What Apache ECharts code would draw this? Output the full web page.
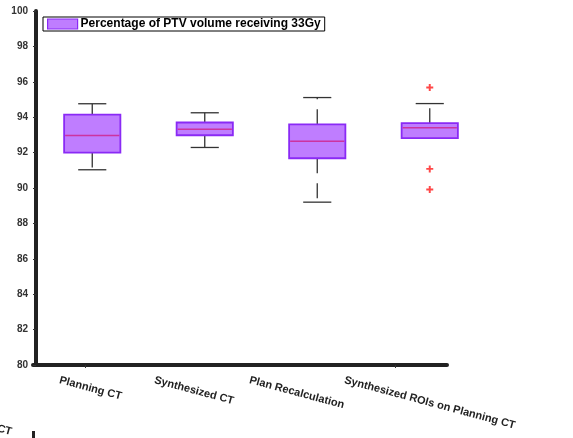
<!DOCTYPE html>
<html>
<head>
<meta charset="utf-8">
<script src="https://cdn.jsdelivr.net/npm/echarts@6/dist/echarts.min.js"></script>
<style>
  html, body { margin: 0; padding: 0; background: #fff; }
  #chart { width: 573px; height: 438px; }
</style>
</head>
<body>
<div id="chart"></div>
<script>
// Box-plot statistics per image set (percent of PTV volume receiving 33 Gy)
const categories = ['Planning CT', 'Synthesized CT', 'Plan Recalculation', 'Synthesized ROIs on Planning CT'];
const lowerWhisker = [91.03, 92.29, 89.20, 92.82];
const q1           = [92.00, 92.98, 91.68, 92.82];
const median       = [92.97, 93.32, 92.64, 93.40];
const q3           = [94.15, 93.70, 93.60, 93.66];
const upperWhisker = [94.76, 94.25, 95.11, 94.77];
// Outliers: [category index, value]
const outliers = [[3, 95.68], [3, 91.08], [3, 89.92]];
// Value axis range and tick step
const yMin = 80, yMax = 100, yStep = 2;
const seriesName = 'Percentage of PTV volume receiving 33Gy';

const FONT = 'Liberation Sans, Arial, Helvetica, sans-serif';
const BOX_FILL = '#bf7dff';
const BOX_EDGE = '#8a2af5';
const MEDIAN_COLOR = '#cc33a0';
const WHISKER_COLOR = '#333333';

const boxData = categories.map((c, i) => [i, lowerWhisker[i], q1[i], median[i], q3[i], upperWhisker[i]]);

function renderBox(params, api) {
  const i = api.value(0);
  const band = api.size([1, 0])[0];
  const xc = api.coord([i, api.value(3)])[0];
  const yLo = api.coord([i, api.value(1)])[1];
  const yQ1 = api.coord([i, api.value(2)])[1];
  const yMed = api.coord([i, api.value(3)])[1];
  const yQ3 = api.coord([i, api.value(4)])[1];
  const yHi = api.coord([i, api.value(5)])[1];
  const boxW = band * 0.5;
  const capW = band * 0.25;
  const whisker = { stroke: WHISKER_COLOR, lineWidth: 1.3, lineDash: [15, 10] };
  const cap = { stroke: WHISKER_COLOR, lineWidth: 1.3 };
  return {
    type: 'group',
    children: [
      { type: 'line', shape: { x1: xc, y1: yQ3, x2: xc, y2: yHi }, style: whisker },
      { type: 'line', shape: { x1: xc, y1: yQ1, x2: xc, y2: yLo }, style: whisker },
      { type: 'line', shape: { x1: xc - capW / 2, y1: yHi, x2: xc + capW / 2, y2: yHi }, style: cap },
      { type: 'line', shape: { x1: xc - capW / 2, y1: yLo, x2: xc + capW / 2, y2: yLo }, style: cap },
      { type: 'rect', shape: { x: xc - boxW / 2, y: yQ3, width: boxW, height: yQ1 - yQ3 },
        style: { fill: BOX_FILL, stroke: BOX_EDGE, lineWidth: 1.8 } },
      { type: 'line', shape: { x1: xc - boxW / 2 + 1, y1: yMed, x2: xc + boxW / 2 - 1, y2: yMed },
        style: { stroke: MEDIAN_COLOR, lineWidth: 1.6 } }
    ]
  };
}

const chart = echarts.init(document.getElementById('chart'), null, { renderer: 'canvas' });

const hiddenY = (g) => ({ gridIndex: g, type: 'value', min: yMin, max: yMax, interval: yStep, show: false });

chart.setOption({
  animation: false,
  backgroundColor: '#ffffff',
  textStyle: { fontFamily: FONT },
  grid: [
    { left: 36, right: 87, top: 11, bottom: 73 },   // boxes + value axis
    { left: 33, width: 414, top: 11, bottom: 73 },  // category axis line and ticks
    { left: 12, width: 380, top: 11, bottom: 73 }   // category labels
  ],
  legend: {
    left: 43, top: 17,
    padding: [1, 4, 1, 4],
    itemWidth: 30, itemHeight: 10,
    borderColor: '#000', borderWidth: 1,
    backgroundColor: '#fff',
    selectedMode: false,
    textStyle: { fontFamily: FONT, fontWeight: 'bold', fontSize: 12, color: '#000', padding: [0, 0, 0, -2] },
    data: [{ name: seriesName, icon: 'rect',
             itemStyle: { color: BOX_FILL, borderColor: BOX_EDGE, borderWidth: 1.2 } }]
  },
  xAxis: [
    { gridIndex: 0, type: 'category', data: categories, show: false },
    { gridIndex: 1, type: 'category', data: categories,
      axisLine: { show: true, lineStyle: { color: '#222', width: 4 } },
      axisTick: { show: true, alignWithLabel: true, length: 3, lineStyle: { color: '#333', width: 1 } },
      axisLabel: { show: false }, splitLine: { show: false } },
    { gridIndex: 2, type: 'category', data: categories,
      axisLine: { show: false }, axisTick: { show: false }, splitLine: { show: false },
      axisLabel: { rotate: -15, align: 'left', verticalAlign: 'middle', margin: 15, interval: 0,
                   fontFamily: FONT, fontWeight: 'bold', fontSize: 11, color: '#222' } }
  ],
  yAxis: [
    { gridIndex: 0, type: 'value', min: yMin, max: yMax, interval: yStep,
      axisLine: { show: true, lineStyle: { color: '#222', width: 4 } },
      axisTick: { show: true, length: 3, lineStyle: { color: '#333', width: 1 } },
      splitLine: { show: false },
      axisLabel: { margin: 8, fontFamily: FONT, fontWeight: 'bold', fontSize: 10, color: '#333' } },
    hiddenY(1),
    hiddenY(2)
  ],
  series: [
    {
      name: seriesName,
      type: 'custom',
      xAxisIndex: 0, yAxisIndex: 0,
      renderItem: renderBox,
      itemStyle: { color: BOX_FILL, borderColor: BOX_EDGE },
      encode: { x: 0, y: [1, 2, 3, 4, 5] },
      data: boxData,
      z: 2
    },
    {
      name: 'outliers',
      type: 'scatter',
      xAxisIndex: 0, yAxisIndex: 0,
      symbol: 'path://M3.6,0H6.4V3.6H10V6.4H6.4V10H3.6V6.4H0V3.6H3.6Z',
      symbolSize: 7,
      itemStyle: { color: '#ff1a1a' },
      data: outliers,
      z: 3
    }
  ],
  graphic: [
    // edge of the neighbouring panel below
    { type: 'text', left: -4, top: 423, rotation: -15 * Math.PI / 180,
      style: { text: 'CT', font: 'bold 11px ' + FONT, fill: '#222' } },
    { type: 'rect', shape: { x: 32, y: 431, width: 3, height: 8 }, style: { fill: '#222' } }
  ]
});
</script>
</body>
</html>
